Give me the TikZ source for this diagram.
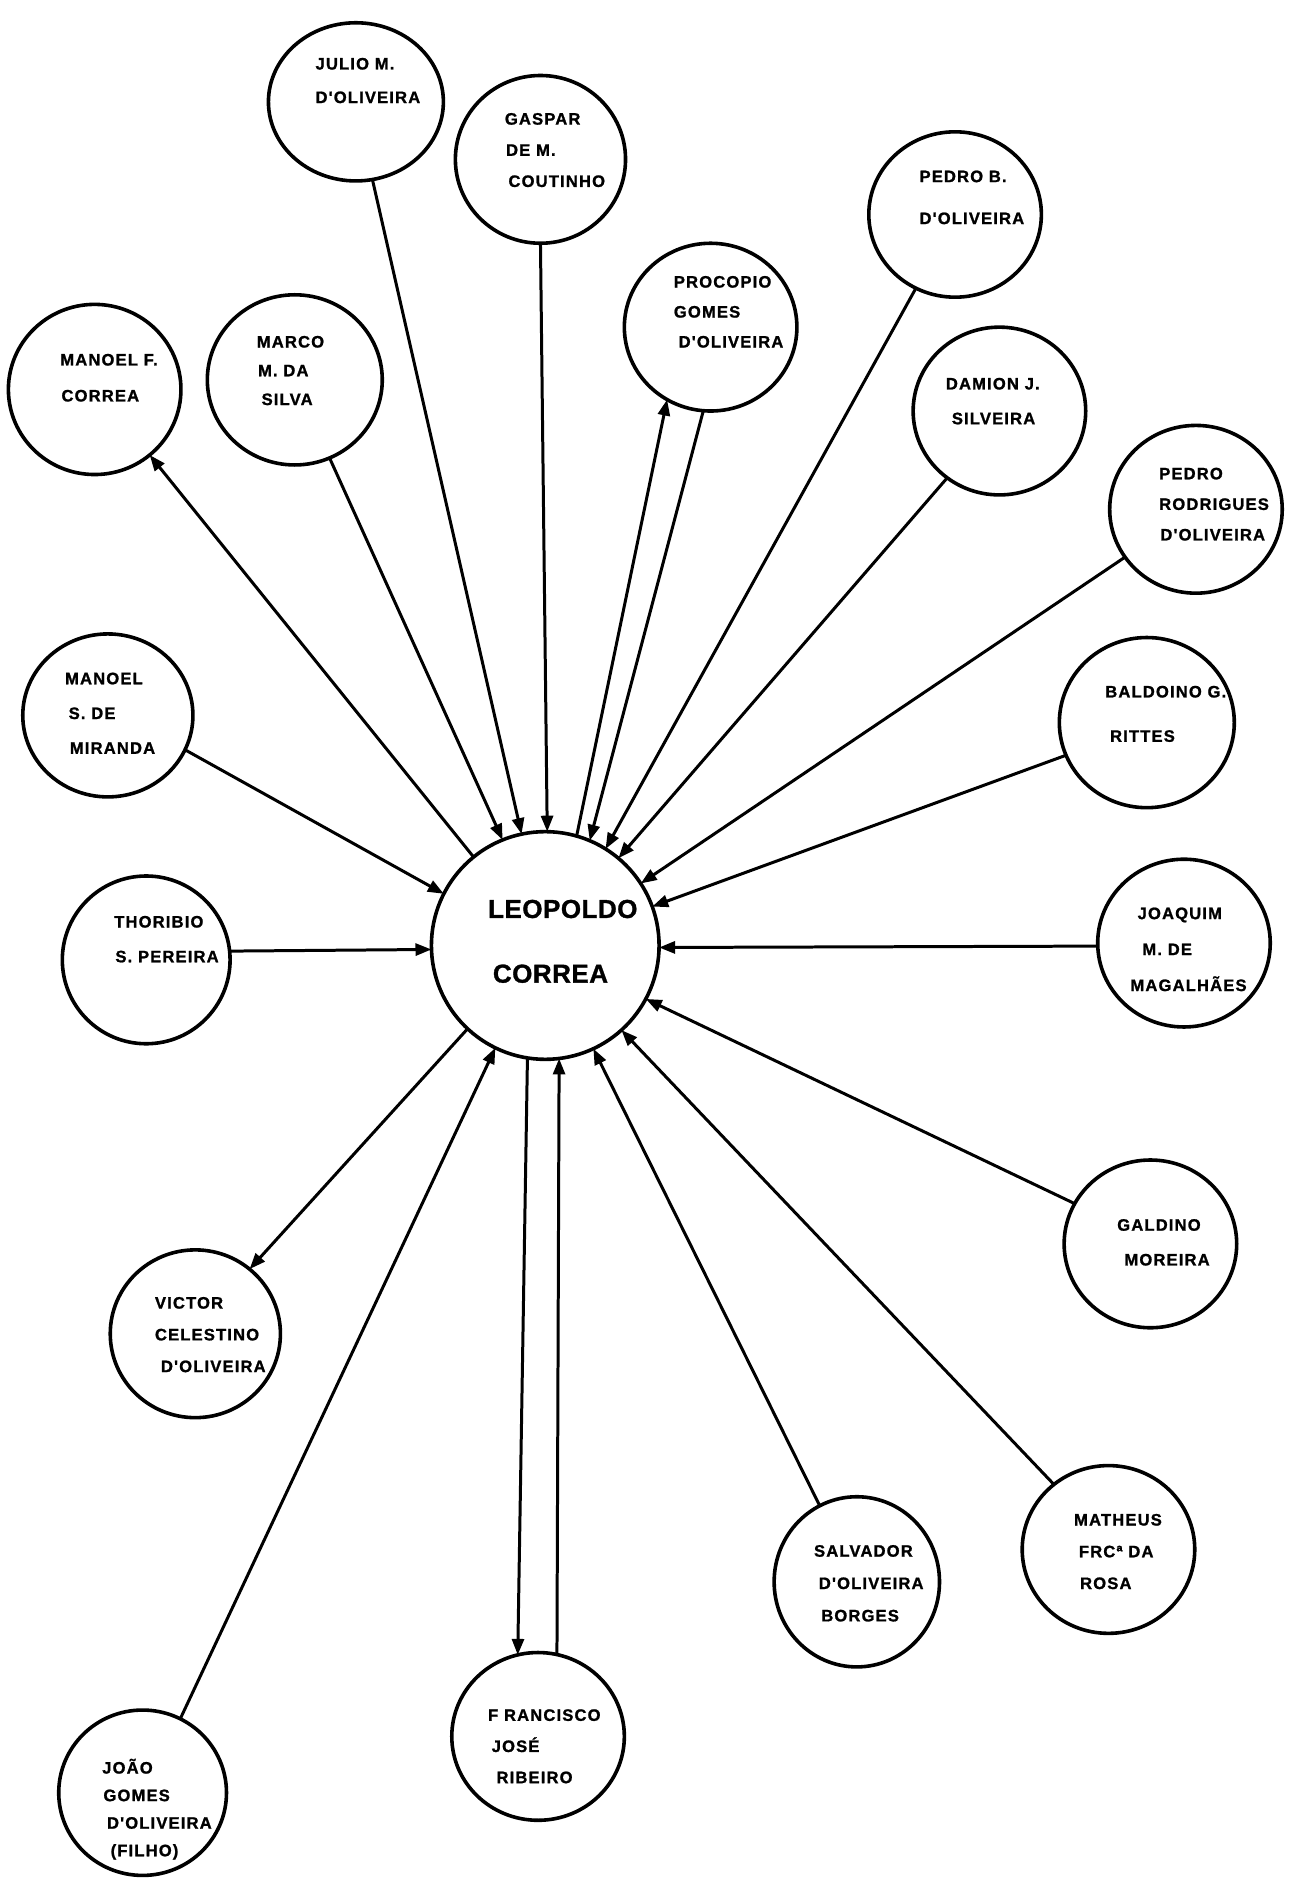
\documentclass[tikz,border=0pt]{standalone}
\usepackage{fontspec}
\usetikzlibrary{shapes.geometric,arrows.meta}
\newfontfamily\lettering[LetterSpace=7,FakeBold=1.2]{Liberation Sans Bold}
\newfontfamily\biglettering[LetterSpace=2,FakeBold=1.2]{Liberation Sans Bold}
\newcommand\lblfont[1]{\lettering\fontsize{8.3pt}{#1pt}\selectfont}
\newcommand\ind[1]{\hspace*{#1pt}}
\begin{document}
\begin{tikzpicture}[x=0.6pt,y=-0.6pt,
  person/.style n args={2}{ellipse, draw, line width=1.8pt, inner sep=0pt, outer sep=0pt,
    minimum width=#1*1.2pt, minimum height=#2*1.2pt},
  link/.style={line width=1.5pt},
  tip/.style={-{Triangle[length=8pt,width=6pt]}},
  % labels are placed by the baseline of their last line
  lbl/.style={anchor=base west, align=left, inner sep=0pt}]
\fill[white] (0,0) rectangle (1078,1568);
\useasboundingbox (0,0) rectangle (1078,1568);

% circles
\node[person={95}{95}] (leo) at (455,789) {};
\node[person={73}{66}] (julio) at (297,85) {};
\node[person={71}{70}] (gaspar) at (451,133) {};
\node[person={72}{70}] (procopio) at (593,273) {};
\node[person={72}{69}] (pedrob) at (797,179) {};
\node[person={72}{70}] (damion) at (834,343) {};
\node[person={72}{70}] (pedror) at (998,425) {};
\node[person={72}{71}] (manoelf) at (79,325) {};
\node[person={73}{71}] (marco) at (246,317) {};
\node[person={71}{68}] (manoels) at (90,597) {};
\node[person={70}{70}] (thoribio) at (122,801) {};
\node[person={73}{71}] (baldoino) at (957,603) {};
\node[person={72}{70}] (joaquim) at (988,787) {};
\node[person={72}{70}] (galdino) at (960,1038) {};
\node[person={72}{70}] (matheus) at (925,1293) {};
\node[person={69}{71}] (salvador) at (715,1320) {};
\node[person={72}{70}] (francisco) at (449,1449) {};
\node[person={71}{70}] (victor) at (163,1113) {};
\node[person={70}{69}] (joao) at (119,1496) {};

% names
\node[lbl, font={\biglettering\fontsize{13pt}{32.4pt}\selectfont}] (leo-t) at (407,820) {LEOPOLDO\\\ind{2.4}CORREA};
\node[lbl, font={\lblfont{16.8}}] (julio-t) at (263,86) {JULIO M.\\D'OLIVEIRA};
\node[lbl, font={\lblfont{15.6}}] (gaspar-t) at (421,156) {GASPAR\\\ind{0.6}DE M.\\\ind{1.8}COUTINHO};
\node[lbl, font={\lblfont{15}}] (procopio-t) at (562,290) {PROCOPIO\\GOMES\\\ind{2.4}D'OLIVEIRA};
\node[lbl, font={\lblfont{21}}] (pedrob-t) at (767,187) {PEDRO B.\\D'OLIVEIRA};
\node[lbl, font={\lblfont{17.4}}] (damion-t) at (789,354) {DAMION J.\\\ind{3}SILVEIRA};
\node[lbl, font={\lblfont{15.3}}] (pedror-t) at (967,451) {PEDRO\\RODRIGUES\\\ind{0.6}D'OLIVEIRA};
\node[lbl, font={\lblfont{18}}] (manoelf-t) at (50,335) {MANOEL F.\\\ind{0.6}CORREA};
\node[lbl, font={\lblfont{14.4}}] (marco-t) at (214,338) {MARCO\\\ind{0.6}M. DA\\\ind{2.4}SILVA};
\node[lbl, font={\lblfont{17.4}}] (manoels-t) at (54,629) {MANOEL\\\ind{1.8}S. DE\\\ind{2.4}MIRANDA};
\node[lbl, font={\lblfont{17.4}}] (thoribio-t) at (95,803) {THORIBIO\\\ind{0.6}S. PEREIRA};
\node[lbl, font={\lblfont{22.2}}] (baldoino-t) at (922,619) {BALDOINO G.\\\ind{2.4}RITTES};
\node[lbl, font={\lblfont{18}}] (joaquim-t) at (943,827) {\ind{3.6}JOAQUIM\\\ind{6}M. DE\\MAGALHÃES};
\node[lbl, font={\lblfont{17.4}}] (galdino-t) at (932,1056) {GALDINO\\\ind{3.6}MOREIRA};
\node[lbl, font={\lblfont{15.9}}] (matheus-t) at (896,1326) {MATHEUS\\\ind{2.4}FRCª DA\\\ind{3}ROSA};
\node[lbl, font={\lblfont{16.2}}] (salvador-t) at (679,1353) {SALVADOR\\\ind{2.4}D'OLIVEIRA\\\ind{3.6}BORGES};
\node[lbl, font={\lblfont{15.6}}] (francisco-t) at (407,1488) {F RANCISCO\\\ind{1.8}JOSÉ\\\ind{4.2}RIBEIRO};
\node[lbl, font={\lblfont{15.9}}] (victor-t) at (129,1145) {VICTOR\\CELESTINO\\\ind{3}D'OLIVEIRA};
\node[lbl, font={\lblfont{13.8}}] (joao-t) at (85,1549) {JOÃO\\\ind{0.6}GOMES\\\ind{2.4}D'OLIVEIRA\\\ind{4.2}(FILHO)};

% connectors
\draw[link, tip] (leo.129) -- (manoelf.-50);
\draw[link, tip] (marco.-66) -- (leo.112);
\draw[link, tip] (julio.-78) -- (leo.102);
\draw[link, tip] (gaspar.-90) -- (leo.89);
\draw[link, tip] (leo.74) -- (procopio.-121);
\draw[link, tip] (procopio.-95) -- (leo.67);
\draw[link, tip] (pedrob.-118) -- (leo.58);
\draw[link, tip] (damion.-128) -- (leo.50);
\draw[link, tip] (pedror.-146) -- (leo.33);
\draw[link, tip] (baldoino.202) -- (leo.20);
\draw[link, tip] (joaquim.182) -- (leo.-1);
\draw[link, tip] (galdino.152) -- (leo.-28);
\draw[link, tip] (matheus.130) -- (leo.-48);
\draw[link, tip] (salvador.116) -- (leo.-65);
\draw[link, tip] (leo.-99) -- (francisco.104);
\draw[link, tip] (francisco.77) -- (leo.-83);
\draw[link, tip] (joao.63) -- (leo.-116);
\draw[link, tip] (leo.-133) -- (victor.50);
\draw[link, tip] (manoels.-24) -- (leo.153);
\draw[link, tip] (thoribio.6) -- (leo.182);
\end{tikzpicture}
\end{document}
